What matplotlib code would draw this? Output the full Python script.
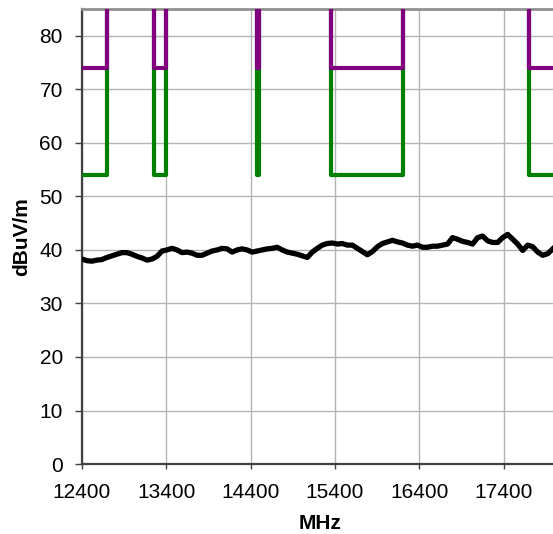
import numpy as np
import matplotlib
matplotlib.use("Agg")
import matplotlib.pyplot as plt

plt.rcParams['font.family'] = ['Liberation Sans', 'DejaVu Sans']

# Restricted bands (MHz) and limits (dBuV/m)
restricted_bands = [(10600, 12700), (13250, 13400), (14470, 14500), (15350, 16200), (17700, 21400)]
average_limit = 54
peak_limit = 74
off_chart = 100

# Measured trace (dBuV/m), equally spaced from 12400 MHz to ~17980 MHz
trace_start = 12400
trace_stop = 17980
trace = [38.3, 38.0, 37.9, 38.1, 38.2, 38.6, 38.9, 39.2, 39.5, 39.5,
         39.2, 38.8, 38.5, 38.1, 38.3, 38.8, 39.8, 40.0, 40.3, 40.0,
         39.5, 39.6, 39.4, 39.0, 39.0, 39.4, 39.8, 40.0, 40.3, 40.2,
         39.6, 40.0, 40.2, 40.0, 39.6, 39.8, 40.0, 40.2, 40.3, 40.5,
         40.0, 39.6, 39.4, 39.2, 38.9, 38.6, 39.6, 40.3, 40.9, 41.2,
         41.3, 41.1, 41.2, 40.9, 40.9, 40.3, 39.7, 39.1, 39.7, 40.6,
         41.2, 41.5, 41.8, 41.5, 41.3, 40.9, 40.7, 40.9, 40.5, 40.5,
         40.7, 40.7, 40.9, 41.1, 42.3, 42.0, 41.6, 41.4, 41.1, 42.3,
         42.6, 41.7, 41.4, 41.4, 42.3, 42.9, 42.0, 41.1, 39.9, 40.9,
         40.6, 39.6, 39.0, 39.3, 40.2]

x_ticks = [12400, 13400, 14400, 15400, 16400, 17400]
y_ticks = [0, 10, 20, 30, 40, 50, 60, 70, 80]


def limit_path(level):
    xs, ys = [], []
    for lo, hi in restricted_bands:
        xs += [lo, lo, hi, hi, np.nan]
        ys += [off_chart, level, level, off_chart, np.nan]
    return xs, ys


fig = plt.figure(figsize=(5.53, 5.34), dpi=100)
ax = fig.add_axes([0.148, 0.131, 0.852, 0.852])

ax.grid(True, color='#b4b4b4', linewidth=1.0)
ax.set_axisbelow(True)

gx, gy = limit_path(average_limit)
ax.plot(gx, gy, color='#008000', linewidth=3.0, solid_capstyle='round',
        solid_joinstyle='round', zorder=3)
px, py = limit_path(peak_limit)
ax.plot(px, py, color='#800080', linewidth=3.0, solid_capstyle='round',
        solid_joinstyle='round', zorder=4)

freqs = np.linspace(trace_start, trace_stop, len(trace))
ax.plot(freqs, trace, color='black', linewidth=3.8, zorder=5)

ax.set_xlim(12400, 17983)
ax.set_ylim(0, 85)
ax.set_xticks(x_ticks)
ax.set_yticks(y_ticks)
ax.tick_params(axis='both', labelsize=15, direction='out',
               width=1, color='#404040')
ax.tick_params(axis='y', length=4.7, pad=9)
ax.tick_params(axis='x', length=3.6, pad=10)

for side in ['left', 'bottom']:
    ax.spines[side].set_color('#404040')
    ax.spines[side].set_linewidth(1.6)
ax.spines['top'].set_color('#909090')
ax.spines['top'].set_linewidth(2)
ax.spines['right'].set_visible(False)

ax.set_xlabel('MHz', fontsize=15, fontweight='bold', va='center')
ax.set_ylabel('dBuV/m', fontsize=15, fontweight='bold', va='center')
ax.xaxis.set_label_coords(0.505, -0.13)
ax.yaxis.set_label_coords(-0.128, 0.5)

fig.savefig('out.png', dpi=100)
